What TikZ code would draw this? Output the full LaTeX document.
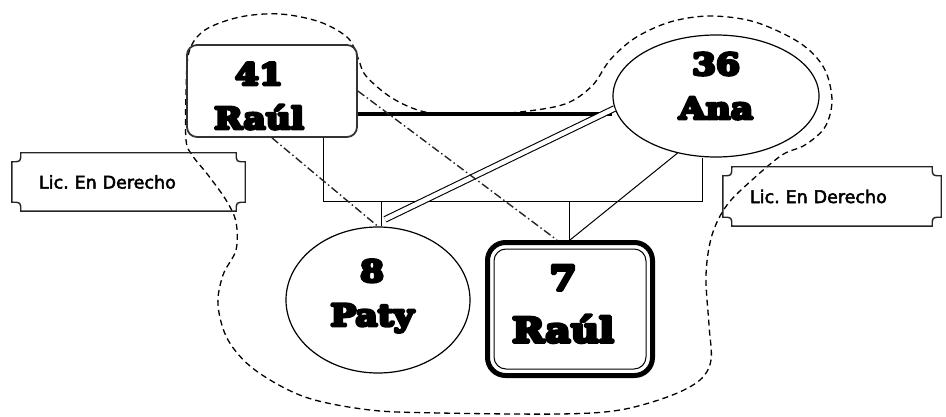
\documentclass[tikz,border=0pt]{standalone}
\usepackage{fontspec}
\usetikzlibrary{calc,shapes.geometric}
\newfontfamily\namefont{DejaVu Serif}[FakeStretch=1.15]
\newfontfamily\licfont{DejaVu Sans}

% fill-and-stroke text for the heavy name labels
\newcommand\heavy[2]{\special{pdf:literal direct 2 Tr #1 w 1 j}#2\special{pdf:literal direct 0 Tr 1 w}}

% concave-cornered label frame around a node
\newcommand\plaqueframe[2]{%
  \draw[licline]
    ($(#1.north west)+(#2,0)$) -- ($(#1.north east)+(-#2,0)$)
    .. controls ($(#1.north east)+(-#2,#2)$) .. ($(#1.north east)+(0,#2)$)
    -- ($(#1.south east)+(0,-#2)$)
    .. controls ($(#1.south east)+(-#2,-#2)$) .. ($(#1.south east)+(-#2,0)$)
    -- ($(#1.south west)+(#2,0)$)
    .. controls ($(#1.south west)+(#2,-#2)$) .. ($(#1.south west)+(0,-#2)$)
    -- ($(#1.north west)+(0,#2)$)
    .. controls ($(#1.north west)+(#2,#2)$) .. cycle;}

\begin{document}
\begin{tikzpicture}[x=1pt,y=-1pt,
  person/.style={draw=black, line width=1.2pt, inner sep=0pt},
  nm/.style={font={\namefont\bfseries\fontsize{30}{44}\selectfont}, align=center, inner sep=0pt},
  nmbig/.style={font={\namefont\bfseries\fontsize{34}{52}\selectfont}, align=center, inner sep=0pt},
  lic/.style={font={\licfont\frenchspacing\fontsize{17.5}{20}\selectfont}, inner xsep=27pt, inner ysep=0pt, align=left},
  licline/.style={draw=black!85, line width=1.4pt},
  outline/.style={line width=1.3pt, dash pattern=on 6pt off 4pt},
  dashdot/.style={line width=1.4pt, draw=black!85, dash pattern=on 8pt off 3pt on 1.5pt off 3pt},
  rel/.style={line width=1pt},
  union/.style={line width=3.8pt},
  twin/.style={double, double distance=4.5pt, line width=1.1pt}]
\useasboundingbox (0,0) rectangle (946,417);
\fill[white] (0,0) rectangle (946,417);

% group outline
\draw[outline] plot[smooth cycle, tension=0.55] coordinates {
  (186,140) (186,95) (189,52) (205,30) (240,17) (280,14) (320,22) (348,38)
  (358,58) (366,76) (392,98) (425,112) (470,115) (520,112) (565,104) (592,86)
  (610,60) (635,38) (670,22) (710,16) (755,22) (800,43) (824,68) (832,100)
  (825,127) (805,145) (782,155) (752,180) (727,205) (712,235) (706,275)
  (709,325) (711,360) (700,380) (670,396) (620,410) (560,414) (440,413)
  (370,410) (305,397) (255,370) (228,340) (218,305) (223,275) (236,250)
  (236,222) (226,200) (208,175) (192,155)};

% people
\node[person, rectangle, rounded corners=10pt, minimum width=170pt, minimum height=92pt,
      draw=black!80, line width=1.8pt] (dad) at (272,91) {};
\node[person, ellipse, minimum width=206pt, minimum height=122pt] (mom) at (716,96) {};
\node[person, ellipse, minimum width=184pt, minimum height=146pt] (paty) at (378,300) {};
\node[draw, rectangle, rounded corners=18pt, line width=5pt, minimum width=165pt,
      minimum height=133pt, inner sep=0pt] (kid) at (570,309) {};
\node[draw, rectangle, rounded corners=12pt, line width=1pt, minimum width=152pt,
      minimum height=120pt, inner sep=0pt] (kidIn) at (570,309) {};

\node[nm] (dadT) at (259,96) {\heavy{3}{41}\\\heavy{3}{Raúl}};
\node[nm] (momT) at (716,86) {\heavy{3}{36}\\\heavy{3}{Ana}};
\node[nm] (patyT) at (372,296) {\heavy{3}{8}\\\heavy{3}{Paty}};
\node[nmbig] (kidT) at (563,304) {\heavy{3.4}{7}\\\heavy{3.4}{Raúl}};

% occupation labels
\node[lic, text width=179pt, minimum height=58pt] (licL) at (128.5,182) {\heavy{0.5}{Lic. En Derecho}};
\node[lic, text width=164pt, minimum height=59pt] (licR) at (832,196.5) {\heavy{0.5}{Lic. En Derecho}};
\plaqueframe{licL}{9}
\plaqueframe{licR}{9}

% family lines
\coordinate (famL) at (323,202);
\coordinate (famR) at (702,202);
\coordinate (dropP) at (381,202);
\coordinate (dropK) at (569,202);
\draw[rel] (dad.south -| famL) -- (famL) -- (famR) -- (famR |- mom.south);
\draw[rel] (dropP) -- (dropP |- paty.north);
\draw[rel] (dropK) -- (dropK |- kid.north);

% relations
\draw[union] ([yshift=-23pt]dad.east) -- ([yshift=-18pt]mom.west);
\draw[twin] ([shift={(7,-7)}]paty.north) -- (mom.187);
\draw[rel] (mom.236) -- (kid.north);
\draw[dashdot] (dad.east) -- ([xshift=-13pt]kid.north);
\draw[dashdot] (dad.south) -- (paty.north);
\end{tikzpicture}
\end{document}
